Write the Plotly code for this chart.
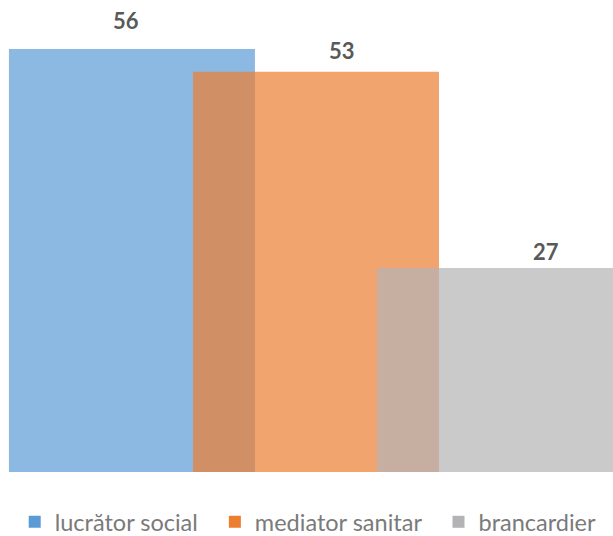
import plotly.graph_objects as go

categories = ["lucrător social", "mediator sanitar", "brancardier"]
values = [56, 53, 27]
label_texts = ["56", "53", "27"]

colors = ["#5B9BD5", "#ED7D31", "#B3B3B5"]
label_xshift = [-6, 26, 46]
label_yshift = [29, 21, 17]
legend_pad = "\u00a0\u00a0"

fig = go.Figure()
for cat, val, col in zip(categories, values, colors):
    fig.add_trace(go.Bar(
        x=[cat], y=[val], name=cat + legend_pad, width=1.337,
        marker=dict(color=col, opacity=0.7, line=dict(width=0)),
        hoverinfo="skip",
    ))

for i, (cat, val, txt) in enumerate(zip(categories, values, label_texts)):
    fig.add_annotation(
        x=cat, y=val, text=f"<b>{txt}</b>", showarrow=False,
        xshift=label_xshift[i], yshift=label_yshift[i],
        yanchor="middle", xanchor="center",
        font=dict(family="Lato", size=22, color="#595959"),
    )

fig.update_layout(
    width=613, height=536,
    margin=dict(l=0, r=0, t=0, b=64, autoexpand=False),
    barmode="overlay",
    plot_bgcolor="white", paper_bgcolor="white",
    xaxis=dict(range=[-0.717, 2.614], showticklabels=False, showgrid=False,
               zeroline=False, showline=False, ticks=""),
    yaxis=dict(range=[0, 62.5], showticklabels=False, showgrid=False,
               zeroline=False, showline=False, ticks=""),
    showlegend=True,
    legend=dict(orientation="h", x=0.024, xanchor="left", y=-50 / 472, yanchor="middle",
                font=dict(family="Lato", size=23.5, color="#7A7A7A"),
                itemclick=False, itemdoubleclick=False, traceorder="normal"),
)

fig.write_html("out.html", config={"displayModeBar": False},
               post_script="document.body.style.margin='0';")
